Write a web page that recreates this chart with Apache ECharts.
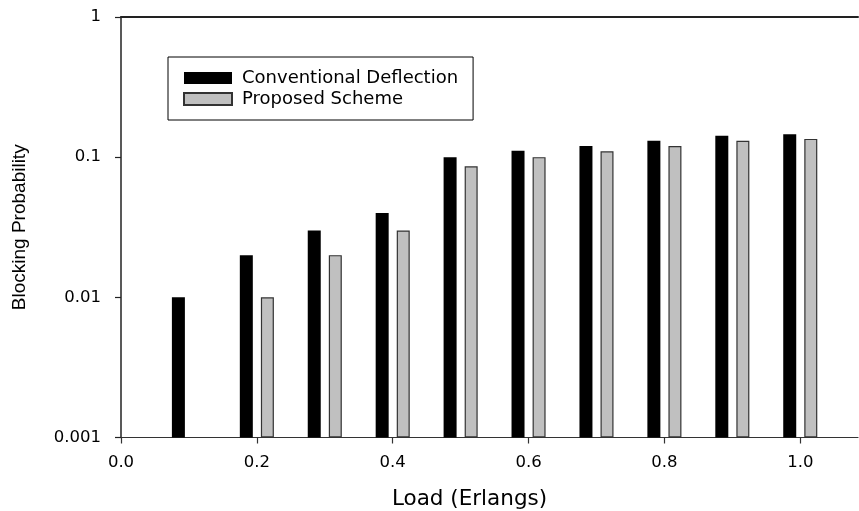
<!DOCTYPE html>
<html><head><meta charset="utf-8">
<script src="https://cdn.jsdelivr.net/npm/echarts@6/dist/echarts.min.js"></script>
<style>html,body{margin:0;padding:0;background:#fff}#c{width:859px;height:511px}</style>
</head><body><div id="c"></div>
<script>
const loads = [0.1, 0.2, 0.3, 0.4, 0.5, 0.6, 0.7, 0.8, 0.9, 1.0];
const conventional = [0.01, 0.02, 0.03, 0.04, 0.1, 0.111, 0.12, 0.131, 0.142, 0.146];
const proposed = [null, 0.01, 0.02, 0.03, 0.086, 0.1, 0.11, 0.12, 0.131, 0.135];
const xTicks = [0, 0.2, 0.4, 0.6, 0.8, 1.0];
const seriesNames = ['Conventional Deflection', 'Proposed Scheme'];

const chart = echarts.init(document.getElementById('c'), null, {renderer: 'canvas'});
chart.setOption({
  animation: false,
  backgroundColor: '#fff',
  grid: {left: 121, right: 1, top: 17, bottom: 73.5, containLabel: false, outerBoundsMode: 'none'},
  legend: {
    orient: 'vertical', left: 168, top: 57,
    padding: [12, 15, 12, 15],
    itemWidth: 48, itemHeight: 12, itemGap: 3,
    icon: 'rect',
    borderColor: '#000', borderWidth: 1,
    textStyle: {fontFamily: 'DejaVu Sans', fontSize: 18, color: '#000', padding: [0, 0, 0, 5]},
    data: seriesNames
  },
  xAxis: [{
    type: 'value', min: 0, max: 1.085,
    name: 'Load (Erlangs)', nameLocation: 'middle', nameGap: 51,
    nameTextStyle: {fontFamily: 'DejaVu Sans', fontSize: 21.5, color: '#000', padding: [0, 40, 0, 0]},
    axisLine: {show: true, lineStyle: {color: '#333', width: 1.2}},
    axisTick: {show: true, length: 6, customValues: xTicks, lineStyle: {color: '#333', width: 1.2}},
    axisLabel: {customValues: xTicks, margin: 17, fontFamily: 'DejaVu Sans', fontSize: 16.5, color: '#000',
      formatter: v => v.toFixed(1)},
    splitLine: {show: false}
  }, {
    type: 'value', position: 'top', min: 0, max: 1.085,
    axisLine: {show: true, lineStyle: {color: '#222', width: 2}},
    axisTick: {show: false}, axisLabel: {show: false}, splitLine: {show: false}
  }],
  yAxis: {
    type: 'log', logBase: 10, min: 0.001, max: 1, startValue: 0.001,
    name: 'Blocking Probability', nameLocation: 'middle', nameGap: 92,
    nameTextStyle: {fontFamily: 'Liberation Sans', fontSize: 19, color: '#000'},
    axisLine: {show: true, lineStyle: {color: '#222', width: 1.5}},
    axisTick: {show: true, length: 6, lineStyle: {color: '#222', width: 1.2}},
    axisLabel: {margin: 20, fontFamily: 'DejaVu Sans', fontSize: 16.5, color: '#000',
      formatter: v => String(Number(v.toPrecision(3)))},
    splitLine: {show: false}, minorTick: {show: false}
  },
  series: [{
    type: 'bar', name: seriesNames[0],
    data: loads.map((x, i) => [x, conventional[i]]),
    barWidth: 13, barGap: '62%',
    itemStyle: {color: '#000'}
  }, {
    type: 'bar', name: seriesNames[1],
    data: loads.map((x, i) => [x, proposed[i]]),
    barWidth: 13, barGap: '62%',
    itemStyle: {color: '#c0c0c0', borderColor: '#333', borderWidth: 1.2}
  }]
});
</script></body></html>
